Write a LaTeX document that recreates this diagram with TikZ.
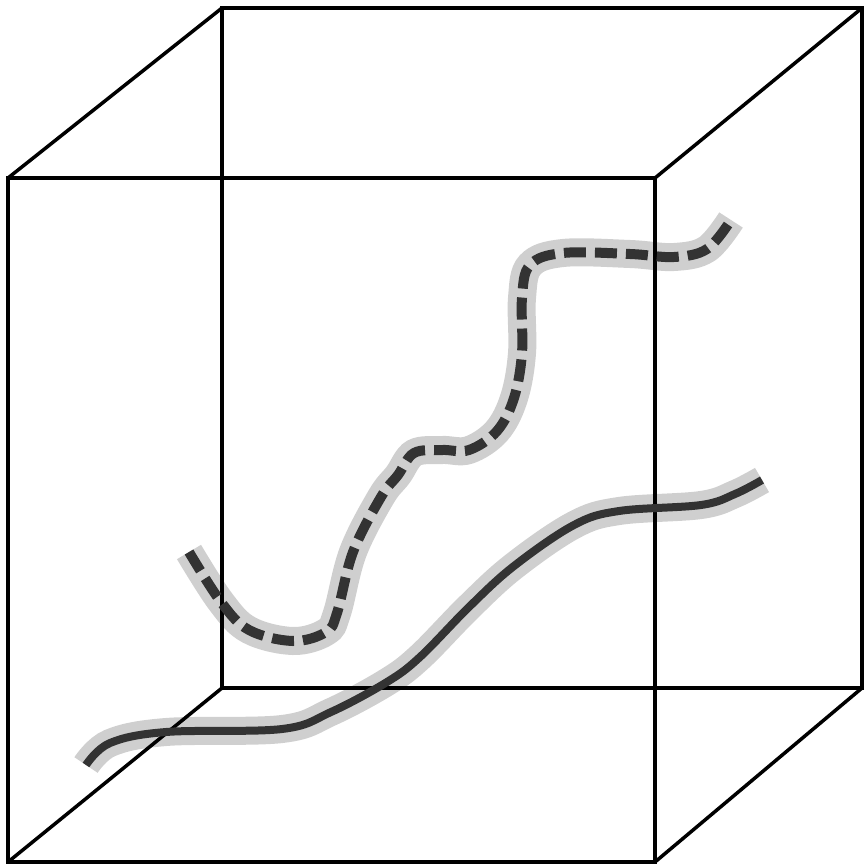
\documentclass[tikz,border=0pt]{standalone}
\begin{document}
\begin{tikzpicture}[x=1pt,y=-1pt,
  edge/.style={line width=3.5pt,black,line join=miter},
  halo/.style={line width=28pt,color=black!19},
  darkline/.style={line width=8pt,color=black!80},
  dashline/.style={line width=10pt,color=black!80,dash pattern=on 22pt off 9pt}]
\useasboundingbox (0,0) rectangle (866,866);
% cube corners
\coordinate (ftl) at (8,178);
\coordinate (ftr) at (655,178);
\coordinate (fbl) at (8,862);
\coordinate (fbr) at (655,862);
\coordinate (btl) at (222,8);
\coordinate (btr) at (862,8);
\coordinate (bbl) at (222,688);
\coordinate (bbr) at (862,688);
% paths
\def\dashpath{plot[smooth,tension=0.6] coordinates {(189,552) (221,602) (249,630) (293,641) (326,632) (337,613) (353,552) (381,497) (398,475) (414,453) (442,450) (469,450) (497,431) (514,398) (522,353) (522,298) (530,265) (563,253) (630,254) (674,257) (707,249) (731,220)}}
\def\solidpath{plot[smooth,tension=0.6] coordinates {(86,765) (110,743) (166,732) (282,729) (331,712) (387,682) (420,657) (469,607) (514,566) (574,525) (619,511) (701,505) (735,494) (762,480)}}
\draw[halo] \dashpath;
\draw[halo] \solidpath;
% cube
\draw[edge] (btl) -- (btr) -- (bbr) -- (bbl) -- cycle;
\draw[edge] (ftl) -- (ftr) -- (fbr) -- (fbl) -- cycle;
\draw[edge] (ftl) -- (btl);
\draw[edge] (ftr) -- (btr);
\draw[edge] (fbl) -- (bbl);
\draw[edge] (fbr) -- (bbr);
% curves
\draw[dashline] \dashpath;
\draw[darkline] \solidpath;
\end{tikzpicture}
\end{document}
